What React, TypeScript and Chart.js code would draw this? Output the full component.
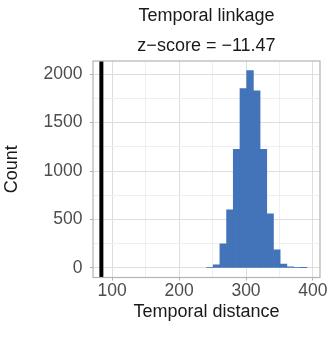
import { useEffect, useRef } from 'react';
import { Chart, registerables } from 'chart.js';

Chart.register(...registerables);

// ---- data ----
const binCenters = [246, 256, 266, 276, 286, 296, 306, 316, 326, 336, 346, 356, 366, 376, 386];
const binCounts = [4, 30, 247, 598, 1224, 1853, 2037, 1828, 1224, 557, 186, 38, 10, 3, 1];
const observedDistance = 84;
const xMajorTicks = [100, 200, 300, 400];
const xMinorTicks = [150, 250, 350];
const yMajorTicks = [0, 500, 1000, 1500, 2000];
const yMinorTicks = [250, 750, 1250, 1750];
const xLimits = [71.5, 410.5];
const yLimits = [-100, 2137];
const titleText = 'Temporal linkage';
const subtitleText = 'z\u2212score = \u221211.47';
const xTitle = 'Temporal distance';
const yTitle = 'Count';

const FONT = '"Liberation Sans", Arial, Helvetica, sans-serif';
const BAR_COLOR = '#4373b9';
const MAJOR_GRID = '#dedede';
const MINOR_GRID = '#efefef';
const BORDER = '#b3b3b3';
const TICK_TEXT = '#4d4d4d';
const TITLE_TEXT = '#1a1a1a';

const panelBorder = {
  id: 'panelBorder',
  afterDatasetsDraw(chart: any) {
    const { ctx, chartArea: a } = chart;
    ctx.save();
    ctx.strokeStyle = BORDER;
    ctx.lineWidth = 1.2;
    ctx.strokeRect(a.left, a.top, a.right - a.left, a.bottom - a.top);
    ctx.restore();
  },
};

export default function App() {
  const ref = useRef<HTMLCanvasElement | null>(null);

  useEffect(() => {
    if (!ref.current) return;
    const allX = [...xMajorTicks, ...xMinorTicks].sort((a, b) => a - b);
    const allY = [...yMajorTicks, ...yMinorTicks].sort((a, b) => a - b);
    const chart = new Chart(ref.current, {
      type: 'bar',
      data: {
        datasets: [
          {
            type: 'line',
            data: [
              { x: observedDistance, y: yLimits[0] },
              { x: observedDistance, y: yLimits[1] },
            ],
            borderColor: '#000000',
            borderWidth: 4,
            pointRadius: 0,
            order: 1,
          } as any,
          {
            type: 'bar',
            data: binCenters.map((x, i) => ({ x, y: binCounts[i] })),
            backgroundColor: BAR_COLOR,
            borderWidth: 0,
            barPercentage: 1,
            categoryPercentage: 1,
            order: 2,
          } as any,
        ],
      },
      options: {
        animation: false,
        responsive: false,
        layout: { padding: { top: 0, left: 0, right: 15, bottom: 0 } },
        plugins: {
          legend: { display: false },
          tooltip: { enabled: false },
          title: {
            display: true,
            text: titleText,
            fullSize: false,
            color: TITLE_TEXT,
            font: { family: FONT, size: 18, weight: 'normal', lineHeight: 1.2 },
            padding: { top: 5.5, bottom: 0 },
          },
          subtitle: {
            display: true,
            text: subtitleText,
            fullSize: false,
            color: TITLE_TEXT,
            font: { family: FONT, size: 18, weight: 'normal', lineHeight: 1.2 },
            padding: { top: 8.5, bottom: 3.8 },
          },
        },
        scales: {
          x: {
            type: 'linear',
            min: xLimits[0],
            max: xLimits[1],
            offset: false,
            bounds: 'data',
            afterBuildTicks: (s: any) => {
              s.ticks = allX.map((v) => ({ value: v }));
            },
            afterFit: (s: any) => {
              s.height = 59.5;
              s.paddingLeft = 0;
              s.paddingRight = 0;
            },
            ticks: {
              autoSkip: false,
              maxRotation: 0,
              padding: 0.5,
              color: TICK_TEXT,
              font: { family: FONT, size: 17.5, lineHeight: 1.2 },
              callback: (v: any) => (xMajorTicks.includes(Number(v)) ? String(v) : ''),
            },
            grid: {
              offset: false,
              lineWidth: 1,
              tickLength: 3,
              color: (c: any) => (xMajorTicks.includes(c.tick?.value) ? MAJOR_GRID : MINOR_GRID),
              tickColor: (c: any) => (xMajorTicks.includes(c.tick?.value) ? BORDER : 'rgba(0,0,0,0)'),
            },
            border: { display: false },
            title: {
              display: true,
              text: xTitle,
              color: TITLE_TEXT,
              font: { family: FONT, size: 18, lineHeight: 1.2 },
              padding: { top: 0, bottom: 14 },
            },
          },
          y: {
            type: 'linear',
            min: yLimits[0],
            max: yLimits[1],
            bounds: 'data',
            afterBuildTicks: (s: any) => {
              s.ticks = allY.map((v) => ({ value: v }));
            },
            afterFit: (s: any) => {
              s.width = 93;
              s.paddingTop = 0;
              s.paddingBottom = 0;
            },
            ticks: {
              autoSkip: false,
              padding: 7.5,
              color: TICK_TEXT,
              font: { family: FONT, size: 17.5, lineHeight: 1.2 },
              callback: (v: any) => (yMajorTicks.includes(Number(v)) ? String(v) : ''),
            },
            grid: {
              lineWidth: 1,
              tickLength: 3,
              color: (c: any) => (yMajorTicks.includes(c.tick?.value) ? MAJOR_GRID : MINOR_GRID),
              tickColor: (c: any) => (yMajorTicks.includes(c.tick?.value) ? BORDER : 'rgba(0,0,0,0)'),
            },
            border: { display: false },
            title: {
              display: true,
              text: yTitle,
              color: TITLE_TEXT,
              font: { family: FONT, size: 18, lineHeight: 1.2 },
              padding: { top: 1, bottom: 0 },
            },
          },
        },
      } as any,
      plugins: [panelBorder],
    });
    return () => chart.destroy();
  }, []);

  return (
    <div style={{ position: 'fixed', left: 0, top: 0, width: 335, height: 337, background: '#ffffff' }}>
      <canvas ref={ref} width={335} height={337} style={{ display: 'block' }} />
    </div>
  );
}
